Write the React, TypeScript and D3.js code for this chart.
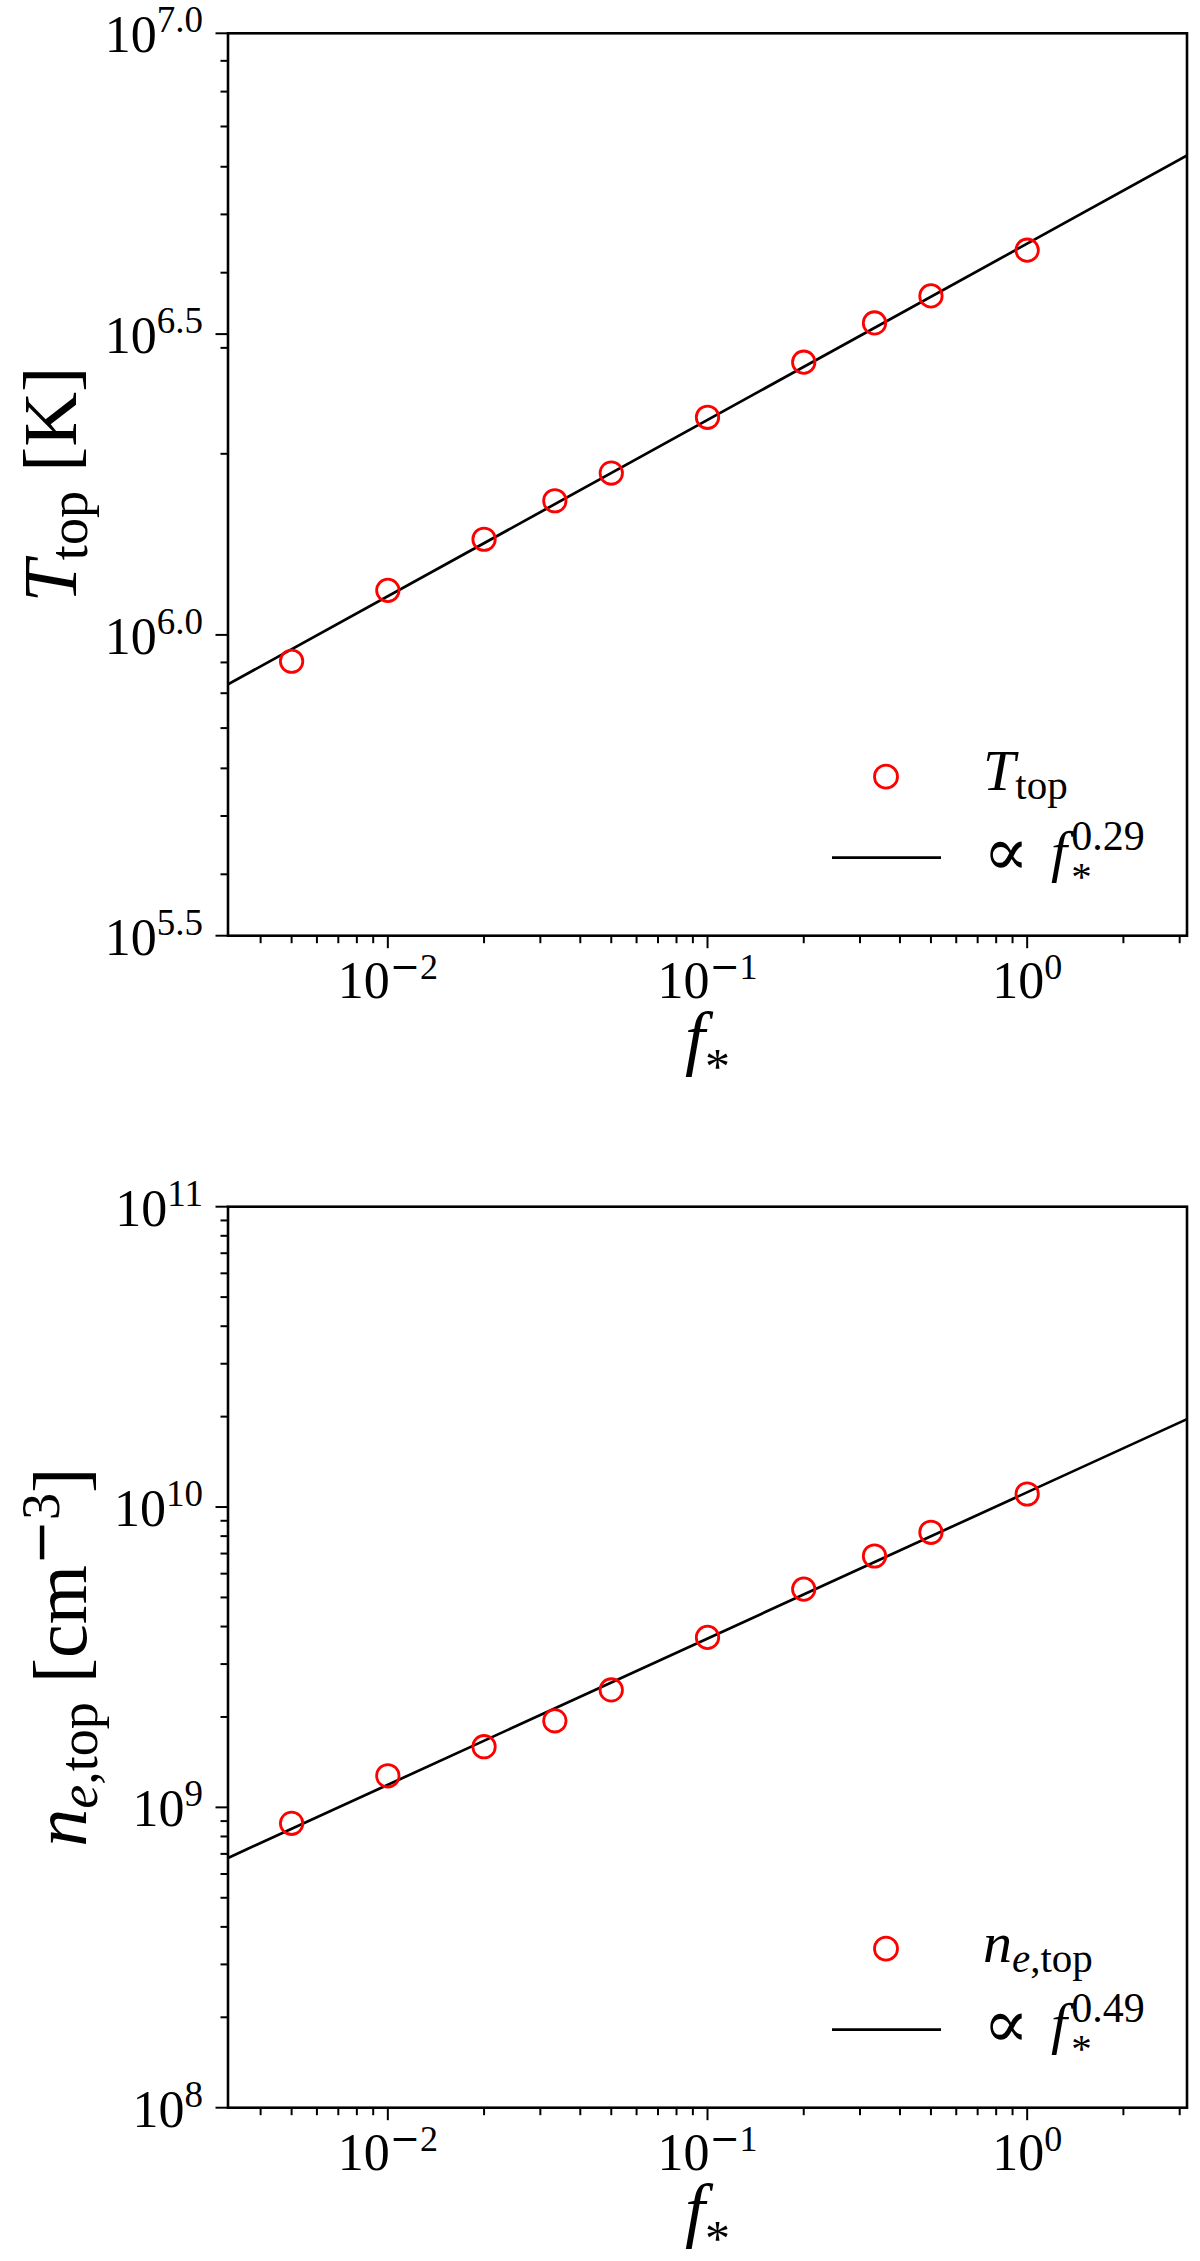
import * as d3 from 'd3'

// f_* values of the runs
const fStar = [0.005, 0.01, 0.02, 0.0333, 0.05, 0.1, 0.2, 0.333, 0.5, 1]

// T_top [K] for each run
const tTop = [9.04e5, 1.186e6, 1.442e6, 1.671e6, 1.858e6, 2.3e6, 2.84e6, 3.3e6, 3.66e6, 4.36e6]

// n_e,top [cm^-3] for each run
const neTop = [8.85e8, 1.274e9, 1.592e9, 1.942e9, 2.46e9, 3.68e9, 5.33e9, 6.87e9, 8.24e9, 1.105e10]

// power-law fits  y = amp * f^slope
const tFit = { amp: 4.47e6, slope: 0.293 }
const neFit = { amp: 1.12e10, slope: 0.487 }

const xDomain = [10 ** -2.5, 10 ** 0.5]
const xMajor = [1e-2, 1e-1, 1]
const xExps = ['−2', '−1', '0']

const tDomain = [10 ** 5.5, 1e7]
const tMajor = [10 ** 5.5, 1e6, 10 ** 6.5, 1e7]
const tExps = ['5.5', '6.0', '6.5', '7.0']

const neDomain = [1e8, 1e11]
const neMajor = [1e8, 1e9, 1e10, 1e11]
const neExps = ['8', '9', '10', '11']

const LEFT = 228
const RIGHT = 1187
const SANS = "'DejaVu Sans', sans-serif"

const notPow10 = (v) => {
	const l = Math.log10(v)
	return Math.abs(l - Math.round(l)) > 1e-6
}

// exponent text, with a wider minus sign like TeX's
const Exp = ({ s }) =>
	s.startsWith('−') ? (
		<>
			<tspan fontFamily={SANS}>−</tspan>
			{s.slice(1)}
		</>
	) : (
		<>{s}</>
	)

const Panel = ({ top, bottom, yDomain, yVals, fit, yMajor, yExps, yLabel, yLabelX, pointLabel, lineLabel, clipId }) => {
	const x = d3.scaleLog().domain(xDomain).range([LEFT, RIGHT])
	const y = d3.scaleLog().domain(yDomain).range([bottom, top])

	const xMinor = x.ticks().filter(notPow10)
	const yMinor = y.ticks().filter(notPow10)

	const fitLine = d3
		.line()
		.x((d) => x(d))
		.y((d) => y(fit.amp * d ** fit.slope))

	const row1 = bottom - 159
	const row2 = bottom - 78

	return (
		<g>
			<defs>
				<clipPath id={clipId}>
					<rect x={LEFT} y={top} width={RIGHT - LEFT} height={bottom - top} />
				</clipPath>
			</defs>

			{/* fit line */}
			<path d={fitLine(xDomain)} fill="none" stroke="#000" strokeWidth={2.7} clipPath={`url(#${clipId})`} />

			{/* data points */}
			{fStar.map((f, i) => (
				<circle key={i} cx={x(f)} cy={y(yVals[i])} r={11.2} fill="none" stroke="#ff0000" strokeWidth={2.8} />
			))}

			{/* frame */}
			<rect x={LEFT} y={top} width={RIGHT - LEFT} height={bottom - top} fill="none" stroke="#000" strokeWidth={2.6} />

			{/* x ticks */}
			{xMinor.map((v, i) => (
				<line key={'xm' + i} x1={x(v)} x2={x(v)} y1={bottom} y2={bottom + 7.5} stroke="#000" strokeWidth={2} />
			))}
			{xMajor.map((v, i) => (
				<g key={'xM' + i}>
					<line x1={x(v)} x2={x(v)} y1={bottom} y2={bottom + 12.5} stroke="#000" strokeWidth={2} />
					<text x={x(v)} y={bottom + 62} textAnchor="middle" fontSize={52}>
						10
						<tspan fontSize={36} dy={-19}>
							<Exp s={xExps[i]} />
						</tspan>
					</text>
				</g>
			))}

			{/* y ticks */}
			{yMinor.map((v, i) => (
				<line key={'ym' + i} x1={LEFT - 7.5} x2={LEFT} y1={y(v)} y2={y(v)} stroke="#000" strokeWidth={2} />
			))}
			{yMajor.map((v, i) => (
				<g key={'yM' + i}>
					<line x1={LEFT - 12.5} x2={LEFT} y1={y(v)} y2={y(v)} stroke="#000" strokeWidth={2} />
					<text x={203} y={y(v) + 19} textAnchor="end" fontSize={52}>
						10<tspan fontSize={37} dy={-20}>{yExps[i]}</tspan>
					</text>
				</g>
			))}

			{/* axis labels */}
			<text x={(LEFT + RIGHT) / 2} y={bottom + 126} textAnchor="middle" fontSize={72}>
				<tspan fontStyle="italic">f</tspan>
				<tspan fontSize={50} dy={21}>*</tspan>
			</text>
			<text transform={`translate(${yLabelX},${(top + bottom) / 2}) rotate(-90)`} textAnchor="middle" fontSize={76}>
				{yLabel}
			</text>

			{/* legend */}
			<circle cx={RIGHT - 301} cy={row1} r={11.5} fill="none" stroke="#ff0000" strokeWidth={2.8} />
			<text x={RIGHT - 204} y={row1 + 13} fontSize={58}>
				{pointLabel}
			</text>
			<line x1={RIGHT - 355} x2={RIGHT - 246} y1={row2} y2={row2} stroke="#000" strokeWidth={2.7} />
			<text x={RIGHT - 204} y={row2 + 13} fontSize={58}>
				<tspan fontSize={68} dy={4}>∝</tspan>
				<tspan fontStyle="italic" dx={22} dy={-4}>f</tspan>
				<tspan fontSize={41} dx={4} dy={19}>*</tspan>
				<tspan fontSize={42} dx={-20.5} dy={-40}>{lineLabel}</tspan>
			</text>
		</g>
	)
}

const App = () => {
	return (
		<svg
			width={1200}
			height={2261}
			style={{ position: 'absolute', left: 0, top: 0, background: '#fff' }}
			fontFamily="'Liberation Serif', 'DejaVu Serif', serif"
		>
			<rect width={1200} height={2261} fill="#fff" />
			<Panel
				top={33.3}
				bottom={935.7}
				yDomain={tDomain}
				yVals={tTop}
				fit={tFit}
				yMajor={tMajor}
				yExps={tExps}
				yLabelX={76}
				clipId="clipT"
				yLabel={
					<>
						<tspan fontStyle="italic">T</tspan>
						<tspan fontSize={54} dy={11}>top</tspan>
						<tspan dy={-11}> [K]</tspan>
					</>
				}
				pointLabel={
					<>
						<tspan fontStyle="italic">T</tspan>
						<tspan fontSize={41} dy={9}>top</tspan>
					</>
				}
				lineLabel="0.29"
			/>
			<Panel
				top={1206.7}
				bottom={2107.7}
				yDomain={neDomain}
				yVals={neTop}
				fit={neFit}
				yMajor={neMajor}
				yExps={neExps}
				yLabelX={86}
				clipId="clipN"
				yLabel={
					<>
						<tspan fontStyle="italic">n</tspan>
						<tspan fontSize={54} dy={11} fontStyle="italic">e</tspan>
						<tspan fontSize={54}>,top</tspan>
						<tspan dy={-11}> [cm</tspan>
						<tspan fontSize={54} dy={-27}>
							<Exp s="−3" />
						</tspan>
						<tspan dy={27}>]</tspan>
					</>
				}
				pointLabel={
					<>
						<tspan fontStyle="italic">n</tspan>
						<tspan fontSize={41} dy={10} fontStyle="italic">e</tspan>
						<tspan fontSize={41}>,top</tspan>
					</>
				}
				lineLabel="0.49"
			/>
		</svg>
	)
}

export default App
